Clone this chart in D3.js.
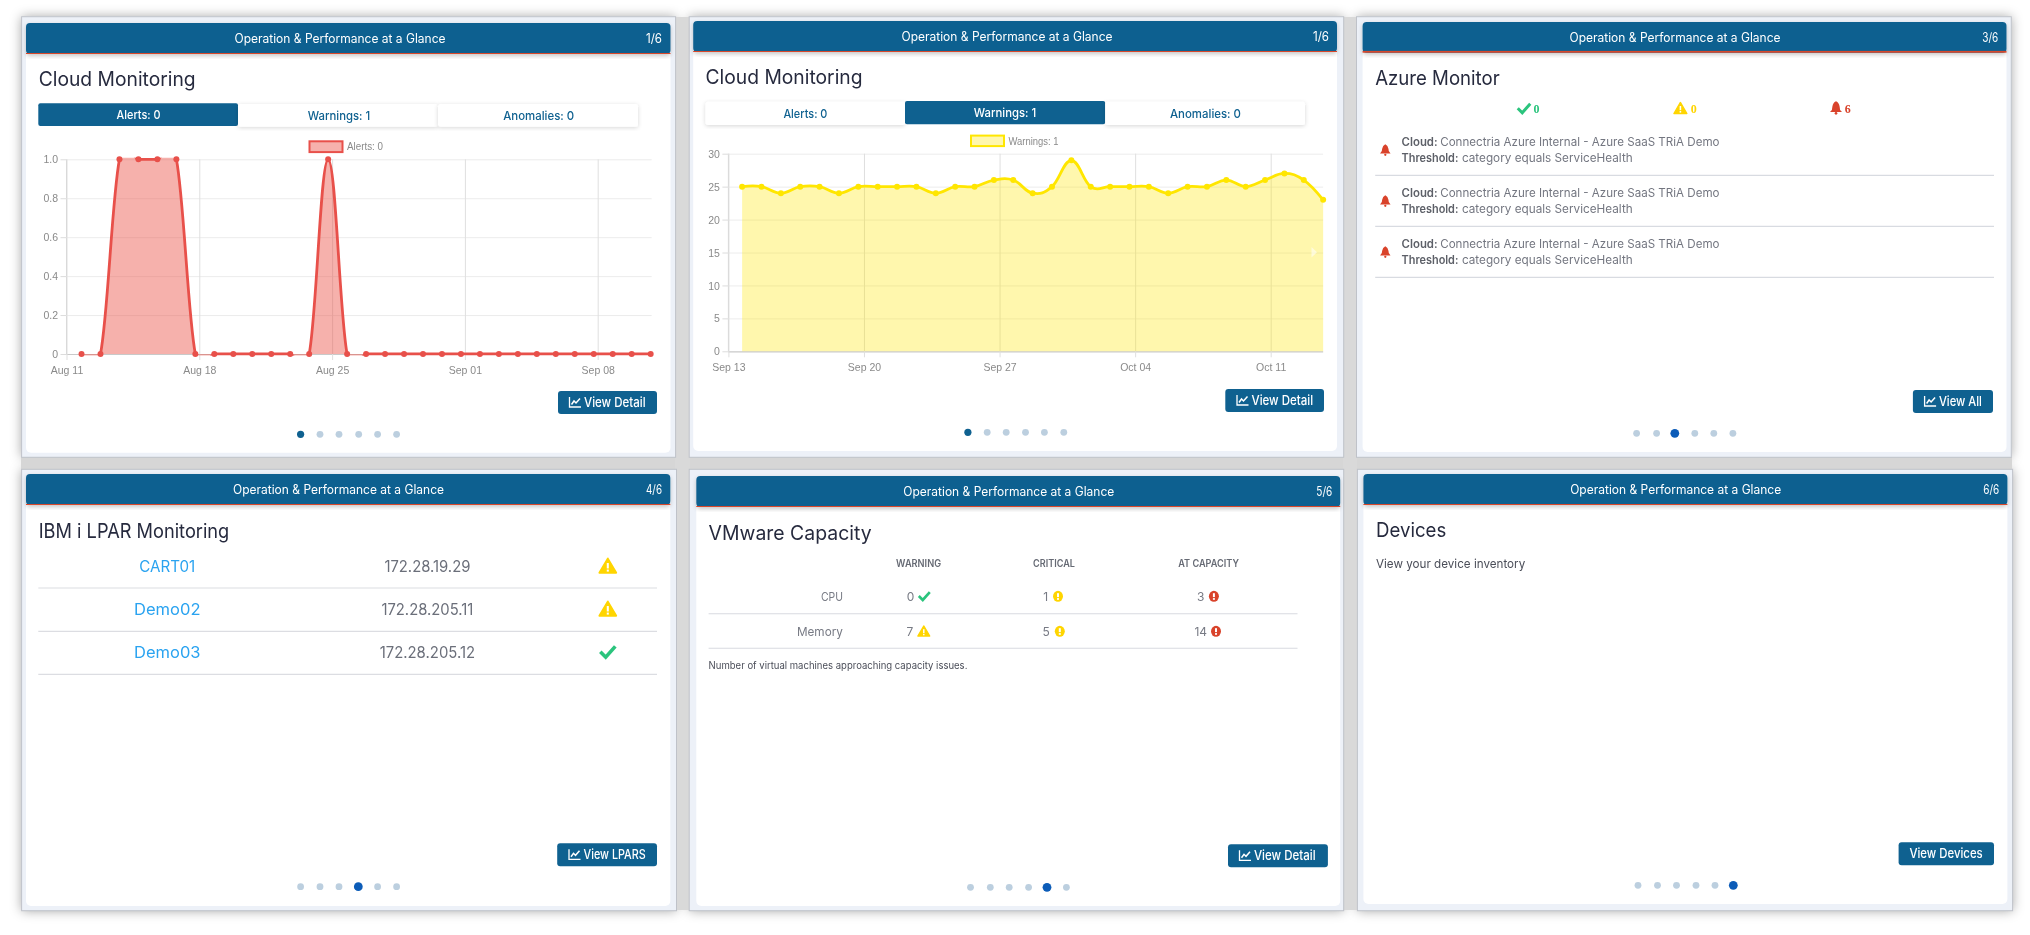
<!DOCTYPE html>
<html><head><meta charset="utf-8">
<script src="https://cdn.jsdelivr.net/npm/d3@7/dist/d3.min.js"></script>
<style>html,body{margin:0;padding:0;background:#fff;overflow:hidden}svg{display:block;filter:blur(.35px)}</style>
</head><body><div id="chart"></div>
<script>
// ---------- data ----------
const headerTitle = "Operation & Performance at a Glance";
const tabLabels = ["Alerts: 0", "Warnings: 1", "Anomalies: 0"];
const alertDates = ["08-11","08-12","08-13","08-14","08-15","08-16","08-17","08-18","08-19","08-20","08-21","08-22","08-23","08-24","08-25","08-26","08-27","08-28","08-29","08-30","08-31","09-01","09-02","09-03","09-04","09-05","09-06","09-07","09-08","09-09","09-10"];
const alertValues = [0,0,1,1,1,1,0,0,0,0,0,0,0,1,0,0,0,0,0,0,0,0,0,0,0,0,0,0,0,0,0];
const alertTicks = ["08-11","08-18","08-25","09-01","09-08"];
const alertYTicks = [0,0.2,0.4,0.6,0.8,1.0];
const warningDates = ["09-13","09-14","09-15","09-16","09-17","09-18","09-19","09-20","09-21","09-22","09-23","09-24","09-25","09-26","09-27","09-28","09-29","09-30","10-01","10-02","10-03","10-04","10-05","10-06","10-07","10-08","10-09","10-10","10-11","10-12","10-13"];
const warningValues = [25,25,24,25,25,24,25,25,25,25,24,25,25,26,26,24,25,29,25,25,25,25,24,25,25,26,25,26,27,26,23];
const warningTicks = ["09-13","09-20","09-27","10-04","10-11"];
const warningYTicks = [0,5,10,15,20,25,30];
const azureCounts = [0,0,6];
const azureCloud = ["Connectria Azure Internal - Azure SaaS TRiA Demo","Connectria Azure Internal - Azure SaaS TRiA Demo","Connectria Azure Internal - Azure SaaS TRiA Demo"];
const azureThreshold = ["category equals ServiceHealth","category equals ServiceHealth","category equals ServiceHealth"];
const lparNames = ["CART01","Demo02","Demo03"];
const lparIps = ["172.28.19.29","172.28.205.11","172.28.205.12"];
const lparStatus = ["warn","warn","ok"];
const vmColumns = ["WARNING","CRITICAL","AT CAPACITY"];
const vmRows = ["CPU","Memory"];
const vmCpu = [0,1,3];
const vmMemory = [7,5,14];
const vmCpuIcons = ["ok","crit","cap"];
const vmMemoryIcons = ["warn","crit","cap"];

// ---------- styling ----------
const BLUE="#0f6190", GREEN="#2bc47d", YELLOW="#ffd500", RED="#d9432b", FONT="Inter, 'Open Sans', sans-serif", TICK="'Liberation Sans', Arial, sans-serif";
const svg=d3.select("#chart").append("svg").attr("width",2030).attr("height",935).attr("viewBox","0 0 2030 935");
const defs=svg.append("defs");
function shadow(id,dy,sd,op,c){const f=defs.append("filter").attr("id",id).attr("x","-10%").attr("y","-10%").attr("width","120%").attr("height","125%");
  f.append("feDropShadow").attr("dx",0).attr("dy",dy).attr("stdDeviation",sd).attr("flood-color",c||"#000").attr("flood-opacity",op);}
shadow("pshadow",0,6,.36); shadow("hshadow",2,2,.22); shadow("tshadow",1,2,.16);
svg.append("rect").attr("width",2030).attr("height",935).attr("fill","#fff");
const shadowLayer=svg.append("g");

function T(g,x,y,s,o={}){const e=g.append("text").attr("x",x).attr("y",y).attr("dy",".36em").text(s)
  .attr("font-family",o.font||FONT).attr("font-size",o.size||12).attr("fill",o.fill||"#333")
  .attr("font-weight",o.weight||400).attr("text-anchor",o.anchor||"start");
  if(o.w) e.attr("textLength",o.w).attr("lengthAdjust","spacingAndGlyphs"); return e;}

function icCheck(g,cx,cy,s){g.append("path").attr("d",d3.line()([[cx-.5*s,cy],[cx-.14*s,cy+.36*s],[cx+.5*s,cy-.36*s]])).attr("fill","none").attr("stroke",GREEN).attr("stroke-width",s*.24);}
function icTri(g,cx,cy,s){const h=s*.5;
  g.append("path").attr("d",d3.line()([[cx,cy-h*.9],[cx+h,cy+h*.8],[cx-h,cy+h*.8]])+"Z").attr("fill",YELLOW).attr("stroke",YELLOW).attr("stroke-width",s*.1).attr("stroke-linejoin","round");
  g.append("rect").attr("x",cx-s*.06).attr("y",cy-h*.35).attr("width",s*.12).attr("height",s*.32).attr("fill","#fff");
  g.append("rect").attr("x",cx-s*.06).attr("y",cy+h*.42).attr("width",s*.12).attr("height",s*.12).attr("fill","#fff");}
function icBell(g,cx,cy,s,c){const w=s*.5,h=s*.55;
  g.append("path").attr("d",`M${cx-w},${cy+h*.62} Q${cx-w*.55},${cy+h*.3} ${cx-w*.6},${cy-h*.2} Q${cx-w*.5},${cy-h*.8} ${cx},${cy-h} Q${cx+w*.5},${cy-h*.8} ${cx+w*.6},${cy-h*.2} Q${cx+w*.55},${cy+h*.3} ${cx+w},${cy+h*.62}Z`).attr("fill",c||RED);
  g.append("circle").attr("cx",cx).attr("cy",cy+h*.84).attr("r",s*.11).attr("fill",c||RED);}
function icCirc(g,cx,cy,r,c){g.append("ellipse").attr("cx",cx).attr("cy",cy).attr("rx",r).attr("ry",r*1.1).attr("fill",c);
  g.append("rect").attr("x",cx-r*.2).attr("y",cy-r*.62).attr("width",r*.4).attr("height",r*.78).attr("fill","#fff");
  g.append("rect").attr("x",cx-r*.2).attr("y",cy+r*.36).attr("width",r*.4).attr("height",r*.34).attr("fill","#fff");}
function icLine(g,x,y){g.append("path").attr("d",`M${x},${y-5.5}V${y+4.5}H${x+11.5}`).attr("fill","none").attr("stroke","#fff").attr("stroke-width",1.3);
  g.append("path").attr("d",d3.line()([[x+2,y+2],[x+4.5,y-1.5],[x+6.5,y+.5],[x+10.5,y-4]])).attr("fill","none").attr("stroke","#fff").attr("stroke-width",1.5);}

function panel(p){
  shadowLayer.append("rect").attr("x",p.x0).attr("y",p.y0).attr("width",p.x1-p.x0).attr("height",p.y1-p.y0).attr("fill","#edf1f8").attr("filter","url(#pshadow)");
  return p;}
function fill(p){const g=svg.append("g");
  g.append("rect").attr("x",p.x0).attr("y",p.y0).attr("width",p.x1-p.x0).attr("height",p.y1-p.y0).attr("fill","#edf1f8").attr("stroke","#bfc2c9");
  g.append("rect").attr("x",p.ix0).attr("y",p.hy0).attr("width",p.ix1-p.ix0).attr("height",p.iy1-p.hy0).attr("rx",5).attr("fill","#fff");
  g.append("rect").attr("x",p.ix0).attr("y",p.hy0).attr("width",p.ix1-p.ix0).attr("height",p.hy1-p.hy0).attr("rx",4).attr("fill",BLUE).attr("filter","url(#hshadow)");
  g.append("rect").attr("x",p.ix0).attr("y",p.hy1-(p.rw||1)).attr("width",p.ix1-p.ix0).attr("height",p.rw||1).attr("fill","#d9482b");
  T(g,p.hx,(p.hy0+p.hy1)/2-.3,headerTitle,{size:12.5,fill:"#fff",anchor:"middle",w:211});
  T(g,p.pr,(p.hy0+p.hy1)/2-.3,p.page,{size:12.5,fill:"#fff",anchor:"end",w:16});
  T(g,p.tx,p.ty,p.title,{size:20,fill:"#262a3e",w:p.tw});
  p.dots.forEach((dx,i)=>g.append("circle").attr("cx",dx).attr("cy",p.dy).attr("r",i===p.active?(p.active?4.4:3.6):3.4).attr("fill",i===p.active?(p.active?"#0c5cb8":BLUE):"#bccfdf"));
  const b=p.btn;
  g.append("rect").attr("x",b[0]).attr("y",b[1]).attr("width",b[2]-b[0]).attr("height",b[3]-b[1]).attr("rx",3).attr("fill",BLUE);
  if(b[6]!==undefined) icLine(g,b[6],(b[1]+b[3])/2);
  T(g,b[4],(b[1]+b[3])/2-.3,p.btnText,{size:13,fill:"#fff",weight:500,w:b[5]});
  return g;}

function tabs(g,xs,y0,y1,active,cx,cy){
  tabLabels.forEach((l,i)=>{const on=i===active;
    g.append("rect").attr("x",xs[i]).attr("y",on?y0:y0+.7).attr("width",xs[i+1]-xs[i]).attr("height",y1-y0).attr("rx",on?2:2.5).attr("fill",on?BLUE:"#fff").attr("filter",on?null:"url(#tshadow)");});
  const ww=[44,62.5,71];
  tabLabels.forEach((l,i)=>T(g,cx[i],i===active?cy:cy+.7,l,{size:12,fill:i===active?"#fff":BLUE,anchor:"middle",weight:500,w:ww[i]}));
}

function chart(g,c){
  const P=(d,t)=>d3.isoParse(`2021-${d}T${t}:00Z`);
  const pts=c.dates.map((d,i)=>({t:P(d,c.time),v:c.values[i]}));
  const x=d3.scaleUtc().domain([P(c.ticks[0],"00:00"),P(c.ticks[c.ticks.length-1],"00:00")]).range(c.xr);
  const y=d3.scaleLinear().domain(d3.extent(c.yTicks)).range(c.yr);
  const xEnd=x(pts[pts.length-1].t)+c.pad;
  const gy=g.append("g").attr("transform",`translate(${c.xr[0]},0)`).call(d3.axisLeft(y).tickValues(c.yTicks).tickSize(6).tickFormat(c.yFmt));
  gy.select(".domain").attr("d",`M0,${c.yr[1]}V${c.yr[0]}`).attr("stroke","#d3d3d3");
  gy.selectAll(".tick line").attr("x2",-6).attr("stroke","#dcdcdc");
  gy.selectAll(".tick").append("line").attr("x1",0).attr("x2",xEnd-c.xr[0]).attr("stroke",d=>d===0?"#c9c9c9":"#ececec").attr("stroke-width",d=>d===0?1.2:1);
  gy.selectAll("text").attr("x",-8.5).attr("dy",".34em").attr("font-family",TICK).attr("font-size",10.5).attr("fill","#8a8a8a");
  const gx=g.append("g").attr("transform",`translate(0,${c.yr[0]})`).call(d3.axisBottom(x).tickValues(c.ticks.map(d=>P(d,"00:00"))).tickSize(6).tickFormat(d3.utcFormat("%b %d")));
  gx.select(".domain").remove();
  gx.selectAll(".tick line").attr("y1",-(c.yr[0]-c.yr[1])).attr("y2",6).attr("stroke","#dfdfdf");
  gx.selectAll("text").attr("dy",c.xdy).attr("font-family",TICK).attr("font-size",10.5).attr("fill","#8a8a8a");
  const id="clip"+c.id;
  defs.append("clipPath").attr("id",id).append("rect").attr("x",c.xr[0]).attr("y",c.yr[1]-1.5).attr("width",xEnd-c.xr[0]+3).attr("height",c.yr[0]-c.yr[1]+3);
  const curve=d3.curveCardinal.tension(-0.2);
  const m=g.append("g").attr("clip-path",`url(#${id})`);
  m.append("path").attr("d",d3.area().x(d=>x(d.t)).y0(c.yr[0]).y1(d=>y(d.v)).curve(curve)(pts)).attr("fill",c.fill);
  m.append("path").attr("d",d3.line().x(d=>x(d.t)).y(d=>y(d.v)).curve(curve)(pts)).attr("fill","none").attr("stroke",c.stroke).attr("stroke-width",2.8);
  g.append("g").selectAll("circle").data(pts).join("circle").attr("cx",d=>x(d.t)).attr("cy",d=>y(d.v)).attr("r",3).attr("fill",c.stroke);
  const L=c.legend;
  g.append("rect").attr("x",L[0]).attr("y",L[1]).attr("width",L[2]).attr("height",L[3]).attr("fill",c.fill).attr("stroke",c.stroke).attr("stroke-width",2);
  T(g,L[0]+L[2]+4.5,L[1]+L[3]/2,c.legendText,{font:TICK,size:10.5,fill:"#8a8a8a",w:L[4]});
}

const dots=(a,b,c,d,e,f)=>[a,b,c,d,e,f];
const P1=panel({x0:21.6,x1:675.6,y0:16.7,y1:457.3,ix0:26,ix1:670.5,iy1:452.7,hy0:23,hy1:54,hx:340,pr:662,page:"1/6",tx:38.7,ty:79,title:"Cloud Monitoring",tw:157,
  dots:dots(300.6,320,339,358.7,377.6,396.6),dy:434.3,active:0,btn:[558,391,657,414,584,61.6,569.5],btnText:"View Detail"});
const P2=panel({x0:689.2,x1:1343.7,y0:16.7,y1:457.3,ix0:693.2,ix1:1337,iy1:451,hy0:21,hy1:52,hx:1007,pr:1329,page:"1/6",tx:705.5,ty:77,title:"Cloud Monitoring",tw:157,
  dots:dots(967.9,987.2,1006.2,1025.5,1044.4,1063.8),dy:432.3,active:0,btn:[1225.3,389,1324,412,1251.5,61.6,1237],btnText:"View Detail"});
const P3=panel({x0:1356.5,x1:2011.3,y0:16.7,y1:457.3,ix0:1362.6,ix1:2006.5,iy1:452,hy0:22,hy1:52.7,rw:1.8,hx:1675,pr:1998.3,page:"3/6",tx:1375.2,ty:77.7,title:"Azure Monitor",tw:124.5,
  dots:dots(1636.6,1656.6,1674.8,1694.8,1713.8,1732.9),dy:433.3,active:2,btn:[1912.9,390,1993,413,1938.9,43,1924.6],btnText:"View All"});
const P4=panel({x0:21.6,x1:676.5,y0:469.3,y1:910.7,ix0:26,ix1:670.3,iy1:906,hy0:474,hy1:505,hx:338.5,pr:662,page:"4/6",tx:38.7,ty:530.7,title:"IBM i LPAR Monitoring",tw:190.6,
  dots:dots(300.6,320,339,358.3,377.6,396.6),dy:886.7,active:3,btn:[557.2,843.3,657,866.3,583.6,62.1,569],btnText:"View LPARS"});
const P5=panel({x0:689.2,x1:1343.7,y0:469.3,y1:910.7,ix0:696.3,ix1:1340.2,iy1:906,hy0:476,hy1:507,hx:1008.8,pr:1332.3,page:"5/6",tx:708.6,ty:532.3,title:"VMware Capacity",tw:163,
  dots:dots(970.5,990.3,1009.2,1028.6,1047,1066.4),dy:887.3,active:4,btn:[1228,844.3,1327.9,867.3,1253.9,61.7,1239.5],btnText:"View Detail"});
const P6=panel({x0:1357.4,x1:2012.6,y0:469.3,y1:910.7,ix0:1363.4,ix1:2007.4,iy1:904,hy0:474,hy1:505,hx:1675.7,pr:1999.2,page:"6/6",tx:1376,ty:530,title:"Devices",tw:70.3,
  dots:dots(1638,1657.5,1676.5,1696,1715,1733.3),dy:885.3,active:5,btn:[1898.6,842.3,1994,865.3,1909.4,73.3],btnText:"View Devices"});

// gray gutters between the cards sit above the shadows, below the cards
shadowLayer.append("rect").attr("x",21).attr("y",457).attr("width",1991).attr("height",13).attr("fill","#d6d6d6");
shadowLayer.append("rect").attr("x",675).attr("y",17).attr("width",15).attr("height",893).attr("fill","#d9d9d9");
shadowLayer.append("rect").attr("x",1343).attr("y",17).attr("width",14).attr("height",893).attr("fill","#d9d9d9");

// ---------- panel 1 ----------
{const g=fill(P1);
 tabs(g,[38.3,238,438,638],103.3,126,0,[138.6,339,538.7],114.5);
 chart(g,{id:1,dates:alertDates,values:alertValues,time:"19:00",ticks:alertTicks,yTicks:alertYTicks,yFmt:d=>d===0?"0":d.toFixed(1),xr:[66.5,597.7],yr:[354,159.3],pad:1,xdy:"1.0em",
  fill:"rgba(235,85,75,.46)",stroke:"#e8504a",legend:[309.5,141.3,33,10.8,36],legendText:"Alerts: 0"});}
// ---------- panel 2 ----------
{const g=fill(P2);
 tabs(g,[705.5,905,1105.2,1305],101,124.3,1,[805.4,1005,1205.5],112.7);
 chart(g,{id:2,dates:warningDates,values:warningValues,time:"17:00",ticks:warningTicks,yTicks:warningYTicks,yFmt:d=>d,xr:[728.4,1270.7],yr:[351.3,153.7],pad:0,xdy:"1.0em",
  fill:"rgba(255,230,0,.32)",stroke:"#ffe600",legend:[971,135.6,33,10.5,50],legendText:"Warnings: 1"});
 g.append("path").attr("d",d3.line()([[1311.5,247],[1317,252.3],[1311.5,257.5]])+"Z").attr("fill","#fff").attr("opacity",.55);}
// ---------- panel 3 ----------
{const g=fill(P3);
 const sy=108.3, ser={font:"'Liberation Serif', serif",size:12,weight:700};
 icCheck(g,1524,sy,12.5); T(g,1533.4,sy,azureCounts[0],{...ser,fill:GREEN});
 icTri(g,1680.4,sy,13); T(g,1690.8,sy,azureCounts[1],{...ser,fill:YELLOW});
 icBell(g,1836,sy-.5,12); T(g,1844.8,sy,azureCounts[2],{...ser,fill:RED});
 [0,1,2].forEach(i=>{const dy=i*51;
  icBell(g,1385.3,150+dy,10.5);
  T(g,1401.6,142.3+dy,"Cloud:",{size:11.5,weight:600,fill:"#5d6068",w:36});
  T(g,1440.2,142.3+dy,azureCloud[i],{size:11.5,fill:"#737680",w:279.3});
  T(g,1401.6,158.3+dy,"Threshold:",{size:11.5,weight:600,fill:"#5d6068",w:56.8});
  T(g,1461.9,158.3+dy,azureThreshold[i],{size:11.5,fill:"#737680",w:170.8});
  g.append("line").attr("x1",1375.2).attr("x2",1994).attr("y1",175.3+dy).attr("y2",175.3+dy).attr("stroke","#cfd2da");});}
// ---------- panel 4 ----------
{const g=fill(P4);
 const nw=[56,66.5,66.5], iw=[86,92,95.5], ys=[566,609,652.3], sep=[588,631.3,674.3];
 lparNames.forEach((n,i)=>{
  T(g,167.3,ys[i],n,{size:15.5,fill:"#2aa3f0",anchor:"middle",w:nw[i]});
  T(g,427.4,ys[i],lparIps[i],{size:15.5,fill:"#6b6f7a",anchor:"middle",w:iw[i]});
  if(lparStatus[i]==="warn") icTri(g,607.8,ys[i],17); else icCheck(g,607.8,ys[i]-.5,15);
  g.append("line").attr("x1",38.3).attr("x2",657).attr("y1",sep[i]).attr("y2",sep[i]).attr("stroke","#dcdde2").attr("stroke-width",1.2);});}
// ---------- panel 5 ----------
{const g=fill(P5);
 const cx=[918.6,1054,1208.6], cw=[45,41.8,60.7];
 vmColumns.forEach((c,i)=>T(g,cx[i],563,c,{size:10,weight:600,fill:"#666a74",anchor:"middle",w:cw[i]}));
 const rowY=[596.3,631.3], sep=[613.7,648.3], rw=[22,46];
 const tx=[[910.6,1045.8,1200.7],[909.8,1046.2,1200.7]], ix=[[924.3,1058,1213.9],[923.8,1059.8,1216]];
 vmRows.forEach((r,i)=>{
  T(g,842.9,rowY[i],r,{size:12,fill:"#777a84",anchor:"end",w:rw[i]});
  const vals=i?vmMemory:vmCpu, ics=i?vmMemoryIcons:vmCpuIcons;
  vals.forEach((v,j)=>{
   T(g,tx[i][j],rowY[i],v,{size:12,fill:"#777a84",anchor:"middle"});
   if(ics[j]==="ok") icCheck(g,ix[i][j],rowY[i]-.3,11);
   else if(ics[j]==="warn") icTri(g,ix[i][j],rowY[i],12);
   else icCirc(g,ix[i][j],rowY[i],5,ics[j]==="crit"?YELLOW:RED);});
  g.append("line").attr("x1",708.6).attr("x2",1297.5).attr("y1",sep[i]).attr("y2",sep[i]).attr("stroke","#d8dae0").attr("stroke-width",1.1);});
 T(g,708.6,665.3,"Number of virtual machines approaching capacity issues.",{size:10,fill:"#4a4d58",w:258.8});}
// ---------- panel 6 ----------
{const g=fill(P6);
 T(g,1376,563.7,"View your device inventory",{size:12,fill:"#4a4d58",w:149.2});}
</script></body></html>
